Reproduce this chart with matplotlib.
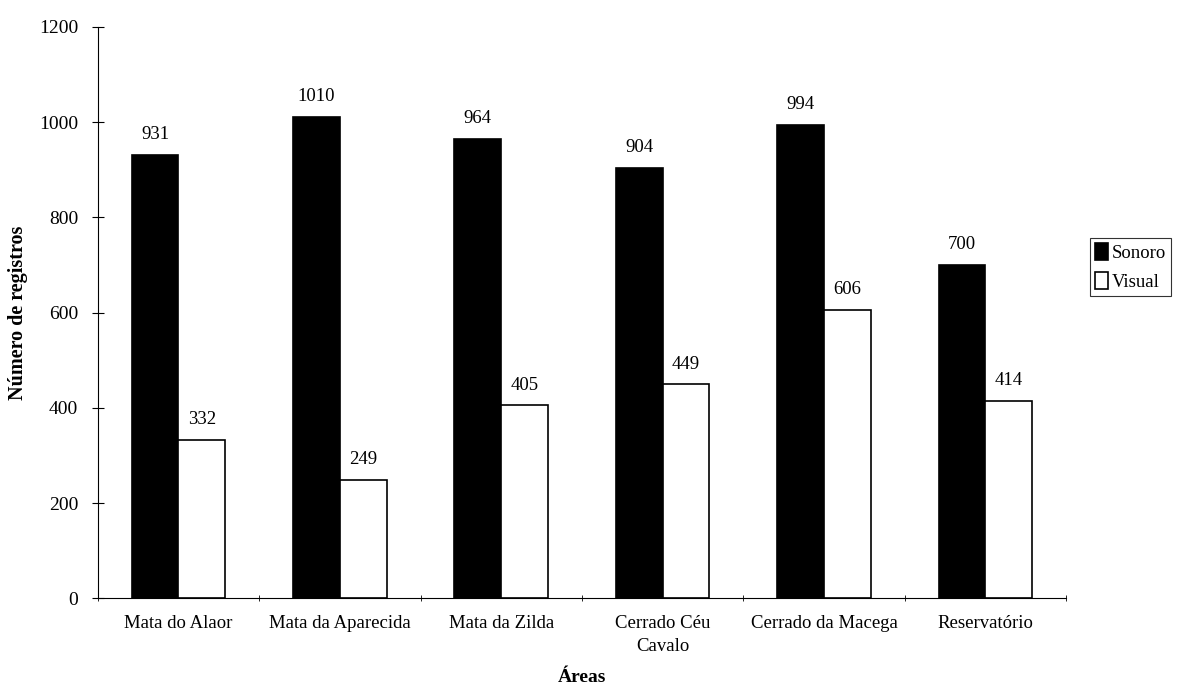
import numpy as np
import matplotlib
matplotlib.use('Agg')
import matplotlib.pyplot as plt

plt.rcParams['font.family'] = ['Liberation Serif', 'DejaVu Serif']

areas = ['Mata do Alaor', 'Mata da Aparecida', 'Mata da Zilda',
         'Cerrado Céu\nCavalo', 'Cerrado da Macega', 'Reservatório']
sonoro = [931, 1010, 964, 904, 994, 700]
visual = [332, 249, 405, 449, 606, 414]

fig = plt.figure(figsize=(11.78, 6.9), dpi=100)
ax = fig.add_axes([0.083, 0.133, 0.822, 0.828])

x = np.arange(len(areas))
w = 0.29
b1 = ax.bar(x - w / 2, sonoro, w, color='black', edgecolor='black',
            linewidth=1.2, label='Sonoro')
b2 = ax.bar(x + w / 2, visual, w, color='white', edgecolor='black',
            linewidth=1.2, label='Visual')

# value above each bar
for bars in (b1, b2):
    for r in bars:
        ax.text(r.get_x() + r.get_width() / 2, r.get_height() + 25,
                f'{int(r.get_height())}', ha='center', va='bottom',
                fontsize=13.5)

ax.set_xlim(-0.5, len(areas) - 0.5)
ax.set_ylim(0, 1200)
ax.set_yticks(range(0, 1201, 200))
ax.set_xticks(x)
ax.set_xticklabels(areas, fontsize=13.5, linespacing=1.5)
# tick marks sit between the groups
ax.set_xticks(np.arange(-0.5, len(areas), 1), minor=True)
ax.tick_params(axis='x', which='major', length=0, pad=12)
ax.tick_params(axis='x', which='minor', length=5, direction='inout')
ax.tick_params(axis='y', labelsize=14, length=8, direction='inout', pad=10)

for s in ('top', 'right'):
    ax.spines[s].set_visible(False)
for s in ('left', 'bottom'):
    ax.spines[s].set_linewidth(0.8)

ax.set_ylabel('Número de registros', fontsize=14.5, fontweight='bold',
              labelpad=8)
ax.set_xlabel('Áreas', fontsize=14, fontweight='bold', labelpad=10)

leg = ax.legend(loc='upper left', bbox_to_anchor=(1.025, 0.63), fontsize=13.5,
                frameon=True, fancybox=False, edgecolor='black',
                handlelength=0.7, handleheight=1.0, handletextpad=0.2,
                borderpad=0.25, labelspacing=0.55, borderaxespad=0)
leg.get_frame().set_linewidth(0.8)

fig.savefig('out.png', dpi=100)
